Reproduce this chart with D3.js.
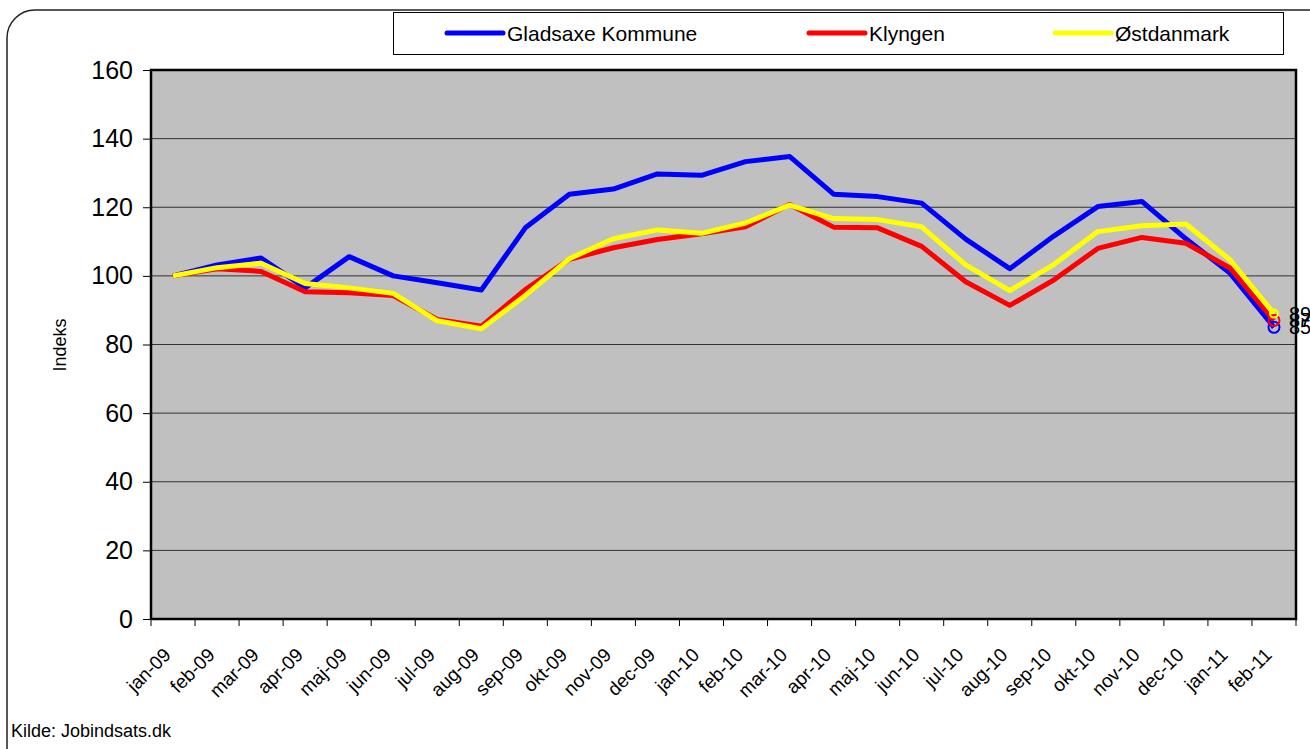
<!DOCTYPE html>
<html>
<head>
<meta charset="utf-8">
<script src="https://cdn.jsdelivr.net/npm/d3@7"></script>
<style>
  body { margin: 0; background: #fff; }
  svg { display: block; font-family: "Liberation Sans", Arial, sans-serif; }
</style>
</head>
<body>
<script>
const months = ["jan-09", "feb-09", "mar-09", "apr-09", "maj-09", "jun-09", "jul-09", "aug-09",
  "sep-09", "okt-09", "nov-09", "dec-09", "jan-10", "feb-10", "mar-10", "apr-10", "maj-10",
  "jun-10", "jul-10", "aug-10", "sep-10", "okt-10", "nov-10", "dec-10", "jan-11", "feb-11"];
const gladsaxe = [100, 103.2, 105.2, 96.5, 105.6, 100, 98, 95.9, 114, 123.8, 125.3, 129.7, 129.3,
  133.3, 134.8, 123.8, 123.1, 121.2, 110.7, 102.1, 111.6, 120.2, 121.7, 110.8, 100.8, 85];
const klyngen = [100, 102.1, 101.3, 95.4, 95.1, 94.3, 87.3, 85.3, 96, 104.8, 108.2, 110.6, 112.3,
  114.3, 120.8, 114.2, 114, 108.6, 98.3, 91.4, 98.8, 108, 111.2, 109.5, 102.3, 87];
const ostdanmark = [100, 102.4, 103.7, 97.8, 96.5, 94.9, 86.9, 84.6, 94.3, 105, 110.8, 113.4, 112.4,
  115.4, 120.6, 116.7, 116.4, 114.3, 103.2, 95.7, 103.3, 112.9, 114.6, 115.1, 104.7, 89];
const seriesNames = ["Gladsaxe Kommune", "Klyngen", "Østdanmark"];
const seriesColors = ["#0000ff", "#ff0000", "#ffff00"];
const yTicks = [0, 20, 40, 60, 80, 100, 120, 140, 160];

const series = [gladsaxe, klyngen, ostdanmark];
const width = 1310, height = 749;
const margin = { top: 70, right: 14, bottom: 130, left: 151 };

const svg = d3.select("body").append("svg")
  .attr("width", width)
  .attr("height", height);

// outer frame, cut off at right and bottom like the original
svg.append("rect")
  .attr("x", 7).attr("y", 10)
  .attr("width", 1340).attr("height", 770)
  .attr("rx", 28)
  .attr("fill", "#fff")
  .attr("stroke", "#222")
  .attr("stroke-width", 1.5);

const x = d3.scaleBand()
  .domain(months)
  .range([margin.left, width - margin.right]);
const y = d3.scaleLinear()
  .domain([0, 160])
  .range([height - margin.bottom, margin.top]);

// plot area
svg.append("rect")
  .attr("x", margin.left).attr("y", margin.top)
  .attr("width", width - margin.right - margin.left)
  .attr("height", height - margin.bottom - margin.top)
  .attr("fill", "#c0c0c0");

// gridlines
svg.append("g")
  .selectAll("line")
  .data(yTicks.filter(d => d > 0 && d < 160))
  .join("line")
  .attr("x1", margin.left).attr("x2", width - margin.right)
  .attr("y1", d => y(d)).attr("y2", d => y(d))
  .attr("stroke", "#333")
  .attr("stroke-width", 1);

// y axis
const yAxis = svg.append("g")
  .attr("transform", `translate(${margin.left},0)`)
  .call(d3.axisLeft(y).tickValues(yTicks).tickSize(8).tickPadding(10))
  .call(g => g.select(".domain").remove());
yAxis.selectAll("line").attr("stroke", "#000");
yAxis.selectAll("text")
  .attr("font-size", 25)
  .attr("font-family", "Liberation Sans, Arial, sans-serif")
  .attr("fill", "#000");

// x axis ticks at category boundaries
const boundaries = months.map(m => x(m)).concat([width - margin.right]);
svg.append("g")
  .selectAll("line")
  .data(boundaries)
  .join("line")
  .attr("x1", d => d).attr("x2", d => d)
  .attr("y1", y(0)).attr("y2", y(0) + 7)
  .attr("stroke", "#000");

svg.append("g")
  .selectAll("text")
  .data(months)
  .join("text")
  .attr("transform", d => `translate(${x(d) + x.bandwidth() / 2 - 1},656) rotate(-45)`)
  .attr("text-anchor", "end")
  .attr("font-size", 19)
  .attr("fill", "#000")
  .text(d => d);

// plot border
svg.append("rect")
  .attr("x", margin.left).attr("y", margin.top)
  .attr("width", width - margin.right - margin.left)
  .attr("height", height - margin.bottom - margin.top)
  .attr("fill", "none")
  .attr("stroke", "#000")
  .attr("stroke-width", 2.5);

// lines
const line = d3.line()
  .x((d, i) => x(months[i]) + x.bandwidth() / 2)
  .y(d => y(d));

series.forEach((s, k) => {
  svg.append("path")
    .attr("d", line(s))
    .attr("fill", "none")
    .attr("stroke", seriesColors[k])
    .attr("stroke-width", 5)
    .attr("stroke-linejoin", "round");
});

// end markers + labels
const last = months.length - 1;
series.forEach((s, k) => {
  svg.append("circle")
    .attr("cx", x(months[last]) + x.bandwidth() / 2)
    .attr("cy", y(s[last]))
    .attr("r", k === 2 ? 4 : 5.5)
    .attr("fill", "none")
    .attr("stroke", seriesColors[k])
    .attr("stroke-width", 2);
});
series.forEach((s, k) => {
  svg.append("text")
    .attr("x", x(months[last]) + x.bandwidth() / 2 + 15)
    .attr("y", y(s[last]) + 7)
    .attr("font-size", 20)
    .attr("fill", "#000")
    .text(d3.format("d")(s[last]));
});

// y label
svg.append("text")
  .attr("transform", "translate(66,345) rotate(-90)")
  .attr("text-anchor", "middle")
  .attr("font-size", 18)
  .attr("font-family", "Liberation Sans Narrow, Liberation Sans, Arial, sans-serif")
  .attr("fill", "#000")
  .text("Indeks");

// legend
const legend = svg.append("g");
legend.append("rect")
  .attr("x", 393.5).attr("y", 12.5)
  .attr("width", 890).attr("height", 42)
  .attr("fill", "#fff")
  .attr("stroke", "#000")
  .attr("stroke-width", 1);
const legendX = [447, 809, 1055];
seriesNames.forEach((name, k) => {
  legend.append("line")
    .attr("x1", legendX[k]).attr("x2", legendX[k] + 56)
    .attr("y1", 33).attr("y2", 33)
    .attr("stroke", seriesColors[k])
    .attr("stroke-width", 5)
    .attr("stroke-linecap", "round");
  legend.append("text")
    .attr("x", legendX[k] + 60)
    .attr("y", 41)
    .attr("font-size", 21)
    .attr("fill", "#000")
    .text(name);
});

svg.append("text")
  .attr("x", 11).attr("y", 737)
  .attr("font-size", 18)
  .attr("fill", "#000")
  .text("Kilde: Jobindsats.dk");
</script>
</body>
</html>
